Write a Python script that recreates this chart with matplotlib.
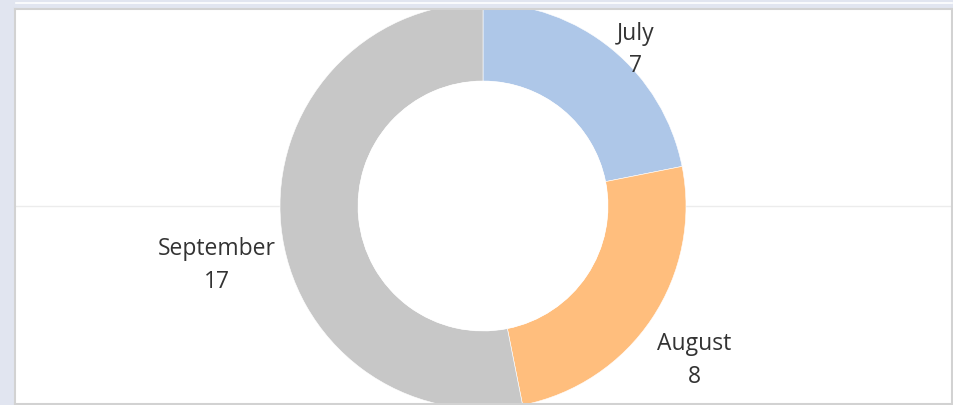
import matplotlib
matplotlib.use('Agg')
import matplotlib.pyplot as plt
from matplotlib.patches import Circle
from matplotlib.lines import Line2D

matplotlib.rcParams['font.family'] = ['Open Sans', 'DejaVu Sans']

# 数据
months = ['July', 'August', 'September']
counts = [7, 8, 17]
colors = ['#aec7e8', '#ffbe7d', '#c7c7c7']
# 标签位置 (像素, 从上往下)
label_pos = [(636, 50), (694, 361), (217, 266)]

W, H = 954, 406
fig = plt.figure(figsize=(W / 100, H / 100), dpi=100, facecolor='#e1e5f0')

# 顶部白线
fig.add_artist(Line2D([16 / W, 952 / W], [1 - 3.5 / H, 1 - 3.5 / H],
                      color='white', linewidth=1.2))

# 面板 (像素坐标)
left, right, top, bottom = 15, 952, 10, 405
ax = fig.add_axes([left / W, 1 - bottom / H, (right - left) / W, (bottom - top) / H])
ax.set_facecolor('white')
for s in ax.spines.values():
    s.set_color('#d2d2d2')
    s.set_linewidth(1.5)
    s.set_zorder(5)
ax.set_xticks([])
ax.set_yticks([])

cx, cy = 483, H - 207
r_out, r_in = 203, 125

ax.axhline(cy, color='#ececec', linewidth=1, zorder=0)

wedges, _ = ax.pie(counts, colors=colors, startangle=90, counterclock=False,
                   radius=r_out, center=(cx, cy), frame=True,
                   wedgeprops=dict(width=r_out - r_in, edgecolor='white', linewidth=0.4))
for w in wedges:
    w.set_clip_on(True)
    w.set_clip_path(ax.patch)
ax.add_patch(Circle((cx, cy), r_in, facecolor='white', edgecolor='none', zorder=1))

for m, c, (px, py) in zip(months, counts, label_pos):
    ax.text(px, H - py, f'{m}\n{c}', ha='center', va='center',
            fontsize=16.5, color='#333333', linespacing=1.5)

ax.set_xlim(left, right)
ax.set_ylim(H - bottom, H - top)
ax.set_aspect('auto')

fig.savefig('out.png', dpi=100, facecolor=fig.get_facecolor())
